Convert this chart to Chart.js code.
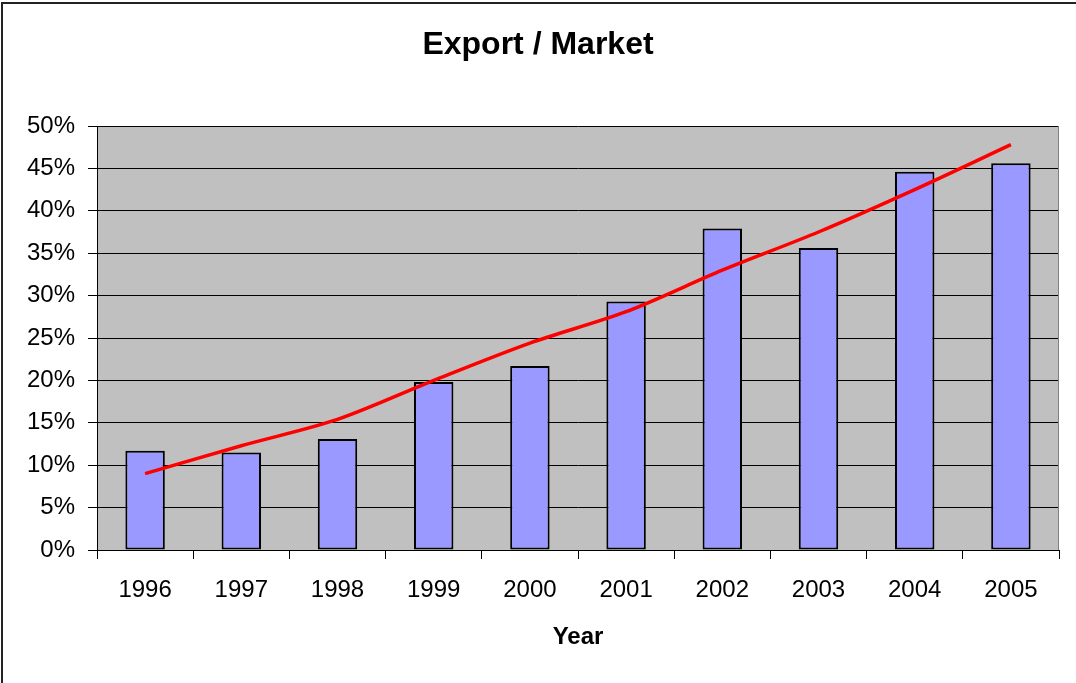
<!DOCTYPE html>
<html>
<head>
<meta charset="utf-8">
<title>Export / Market</title>
<script src="https://cdn.jsdelivr.net/npm/chart.js@4.4.1/dist/chart.umd.min.js"></script>
<style>
  html, body { margin: 0; padding: 0; background: #fff; }
  #wrap { position: relative; width: 1076px; height: 683px; overflow: hidden; }
  #frame {
    position: absolute; left: 1px; top: 2px; width: 1200px; height: 800px;
    border-left: 2px solid #222; border-top: 2px solid #222; pointer-events: none;
  }
</style>
</head>
<body>
<div id="wrap">
  <canvas id="chart" width="1076" height="683"></canvas>
  <div id="frame"></div>
</div>
<script>
// data (percent)
const years = ['1996', '1997', '1998', '1999', '2000', '2001', '2002', '2003', '2004', '2005'];
const exportShare = [11.7, 11.5, 13.1, 19.8, 21.7, 29.3, 37.9, 35.6, 44.6, 45.6];
const trendLine = [9.0, 12.3, 15.4, 20.0, 24.4, 28.1, 33.0, 37.5, 42.5, 47.8];
const yMin = 0, yMax = 50, yStep = 5;

const FONT = "'Liberation Sans', Arial, Helvetica, sans-serif";

// grey plot area like the old Excel charts
const plotBg = {
    id: 'plotBg',
    beforeDraw(chart) {
        const { ctx, chartArea: a } = chart;
        ctx.save();
        ctx.fillStyle = '#C0C0C0';
        ctx.fillRect(a.left, a.top, a.right - a.left, a.bottom - a.top);
        ctx.restore();
    },
    beforeDatasetsDraw(chart) {
        const { ctx, chartArea: a } = chart;
        ctx.save();
        ctx.strokeStyle = '#808080';
        ctx.lineWidth = 1;
        ctx.beginPath();
        ctx.moveTo(a.right - 0.5, a.top);
        ctx.lineTo(a.right - 0.5, a.bottom);
        ctx.stroke();
        ctx.restore();
    }
};

const ctx = document.getElementById('chart').getContext('2d');
const chart = new Chart(ctx, {
    data: {
        labels: years,
        datasets: [{
            type: 'line',
            label: 'Trend',
            data: trendLine,
            borderColor: '#FF0000',
            borderWidth: 3.5,
            pointRadius: 0,
            tension: 0.3,
            fill: false,
            order: 0
        }, {
            type: 'bar',
            label: 'Export / Market',
            data: exportShare,
            backgroundColor: '#9999FF',
            borderColor: '#000000',
            borderWidth: 2,
            borderSkipped: false,
            categoryPercentage: 0.41,
            barPercentage: 1,
            order: 1
        }]
    },
    options: {
        responsive: false,
        devicePixelRatio: 1,
        animation: false,
        layout: { padding: 0 },
        plugins: {
            legend: { display: false },
            tooltip: { enabled: false },
            title: {
                display: true,
                text: 'Export / Market',
                color: '#000',
                font: { family: FONT, size: 32, weight: 'bold' },
                padding: { top: 26, bottom: 61.6 }
            }
        },
        scales: {
            x: {
                offset: true,
                grid: {
                    offset: true,
                    drawOnChartArea: false,
                    drawTicks: true,
                    tickLength: 9,
                    color: '#000',
                    lineWidth: 1
                },
                border: { color: '#000', width: 1 },
                ticks: {
                    color: '#000',
                    padding: 17,
                    maxRotation: 0,
                    font: { family: FONT, size: 24 }
                },
                title: {
                    display: true,
                    text: 'Year',
                    color: '#000',
                    font: { family: FONT, size: 24, weight: 'bold' },
                    padding: { top: 0, bottom: 31.6 }
                },
                afterFit(scale) { scale.height = 133; }
            },
            y: {
                min: yMin,
                max: yMax,
                grid: {
                    color: '#000',
                    lineWidth: 1,
                    drawTicks: true,
                    tickLength: 9,
                    tickColor: '#000'
                },
                border: { color: '#000', width: 1 },
                ticks: {
                    stepSize: yStep,
                    color: '#000',
                    padding: 13,
                    font: { family: FONT, size: 24 },
                    callback: v => v + '%'
                },
                afterFit(scale) { scale.width = 97; }
            },
            // empty right gutter so the title stays centred on the whole page
            gutter: {
                position: 'right',
                min: yMin,
                max: yMax,
                grid: { display: false },
                border: { display: false },
                ticks: { display: false },
                afterFit(scale) { scale.width = 17; }
            }
        }
    },
    plugins: [plotBg]
});
</script>
</body>
</html>
